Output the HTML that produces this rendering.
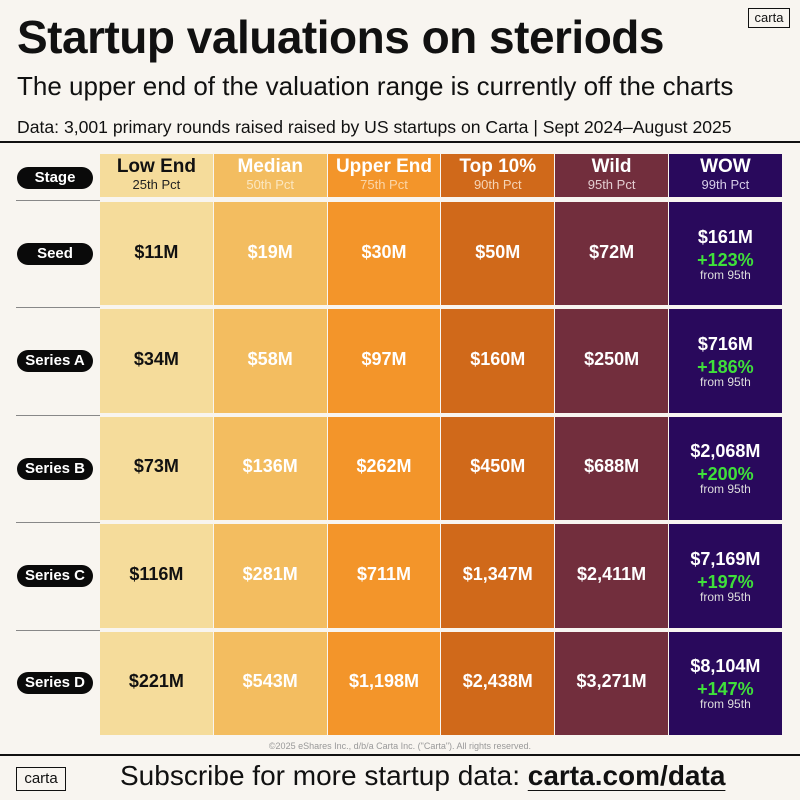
<!DOCTYPE html>
<html><head><meta charset="utf-8"><style>
body{margin:0;width:800px;height:800px;background:#f8f5f0;font-family:"Liberation Sans",sans-serif;position:relative;overflow:hidden;color:#111}
.abs{position:absolute}
#title{left:17px;top:10px;font-size:46px;font-weight:bold;letter-spacing:-0.5px;white-space:nowrap}
#sub{left:17px;top:71px;font-size:26px;white-space:nowrap}
#src{left:17px;top:117px;font-size:17.6px;white-space:nowrap}
#logo{left:748px;top:8px;width:40px;height:18px;border:1.5px solid #111;font-size:13px;text-align:center;line-height:18px}
.hline{background:#111;height:2px;left:0;width:800px}
.pill{left:17px;width:76px;height:22px;border-radius:11px;background:#0a0a0a;color:#fff;font-weight:bold;font-size:15px;text-align:center;line-height:22px}
.sep{left:16px;width:84px;height:1px;background:#888}
.cell{box-sizing:border-box;text-align:center;border-right:1px solid #f8f5f0;border-bottom:2px solid #f8f5f0}
.val{font-weight:bold;font-size:18px}
.pct{color:#3fe03a;font-weight:bold;font-size:18px;line-height:18px}
.from{font-size:12px;color:#ddd;line-height:12px}
</style></head><body>
<div class="abs" id="title">Startup valuations on steriods</div>
<div class="abs" id="sub">The upper end of the valuation range is currently off the charts</div>
<div class="abs" id="src">Data: 3,001 primary rounds raised raised by US startups on Carta | Sept 2024–August 2025</div>
<div class="abs" id="logo">carta</div>
<div class="abs hline" style="top:141px"></div>
<div class="abs pill" style="top:167px">Stage</div>
<div class="abs" id="grid"></div>
<div class="abs" style="left:100px;top:200px;width:1px;height:537px;background:#888"></div>
<div class="abs" style="left:0;width:800px;top:741px;font-size:9px;color:#999;text-align:center">©2025 eShares Inc., d/b/a Carta Inc. ("Carta"). All rights reserved.</div>
<div class="abs hline" style="top:754px"></div>
<div class="abs" style="left:16px;top:767px;width:48px;height:22px;border:1.5px solid #111;font-size:15px;text-align:center;line-height:22px">carta</div>
<div class="abs" style="left:120px;top:760px;font-size:28px;white-space:nowrap">Subscribe for more startup data: <span style="font-weight:bold;text-decoration:underline;text-decoration-thickness:1px;text-underline-offset:5px">carta.com/data</span></div>
<script>
const stages=["Seed","Series A","Series B","Series C","Series D"];
const colNames=["Low End","Median","Upper End","Top 10%","Wild","WOW"];
const colPcts=["25th Pct","50th Pct","75th Pct","90th Pct","95th Pct","99th Pct"];
const seedVals=[11,19,30,50,72,161];
const seriesAVals=[34,58,97,160,250,716];
const seriesBVals=[73,136,262,450,688,2068];
const seriesCVals=[116,281,711,1347,2411,7169];
const seriesDVals=[221,543,1198,2438,3271,8104];
const growth=[123,186,200,197,147];
const rows=[seedVals,seriesAVals,seriesBVals,seriesCVals,seriesDVals];
const colors=["#f5dc9b","#f3bd60","#f3952a","#d0691a","#722e3d","#29095c"];
const subColors=["#222","#fbe7c0","#fbd6a8","#f6d4b6","#e3cdd0","#d6cde8"];
const X0=100,CW=113.8,HY=154,HH=43,RY=200,RH=107.4;
const fmt=v=>"$"+v.toLocaleString("en-US")+"M";
colNames.forEach((n,c)=>{
  const d=document.createElement('div');
  
  
  d.className='abs cell';
  d.style.cssText=`left:${X0+c*CW}px;top:${HY}px;width:${CW}px;height:${HH}px;background:${colors[c]};border-bottom:none;color:${c==0?'#111':'#fff'}`;
  d.innerHTML=`<div style="font-size:19px;font-weight:bold;margin-top:2px;line-height:22px">${n}</div><div style="font-size:13px;color:${subColors[c]};line-height:14px">${colPcts[c]}</div>`;
  document.body.appendChild(d);
});
stages.forEach((s,r)=>{
  const y=RY+r*RH;
  const sep=document.createElement('div');
  
  
  sep.className='abs sep';sep.style.top=(y)+'px';document.body.appendChild(sep);
  const p=document.createElement('div');
  
  
  p.className='abs pill';p.style.top=(y+RH/2-11)+'px';p.textContent=s;document.body.appendChild(p);
  rows[r].forEach((v,c)=>{
    const d=document.createElement('div');
    
    
    d.className='abs cell';
    d.style.cssText=`left:${X0+c*CW}px;top:${y}px;width:${CW}px;height:${RH}px;background:${colors[c]};color:${c==0?'#111':'#fff'};border-top:2px solid #f8f5f0`;
    if(c<5){d.innerHTML=`<div class="val" style="margin-top:${RH/2-14}px">${fmt(v)}</div>`;}
    else{d.innerHTML=`<div class="val" style="margin-top:${RH/2-29}px">${fmt(v)}</div><div class="pct" style="margin-top:3px">+${growth[r]}%</div><div class="from">from 95th</div>`;}
    document.body.appendChild(d);
  });
});
</script>
</body></html>
